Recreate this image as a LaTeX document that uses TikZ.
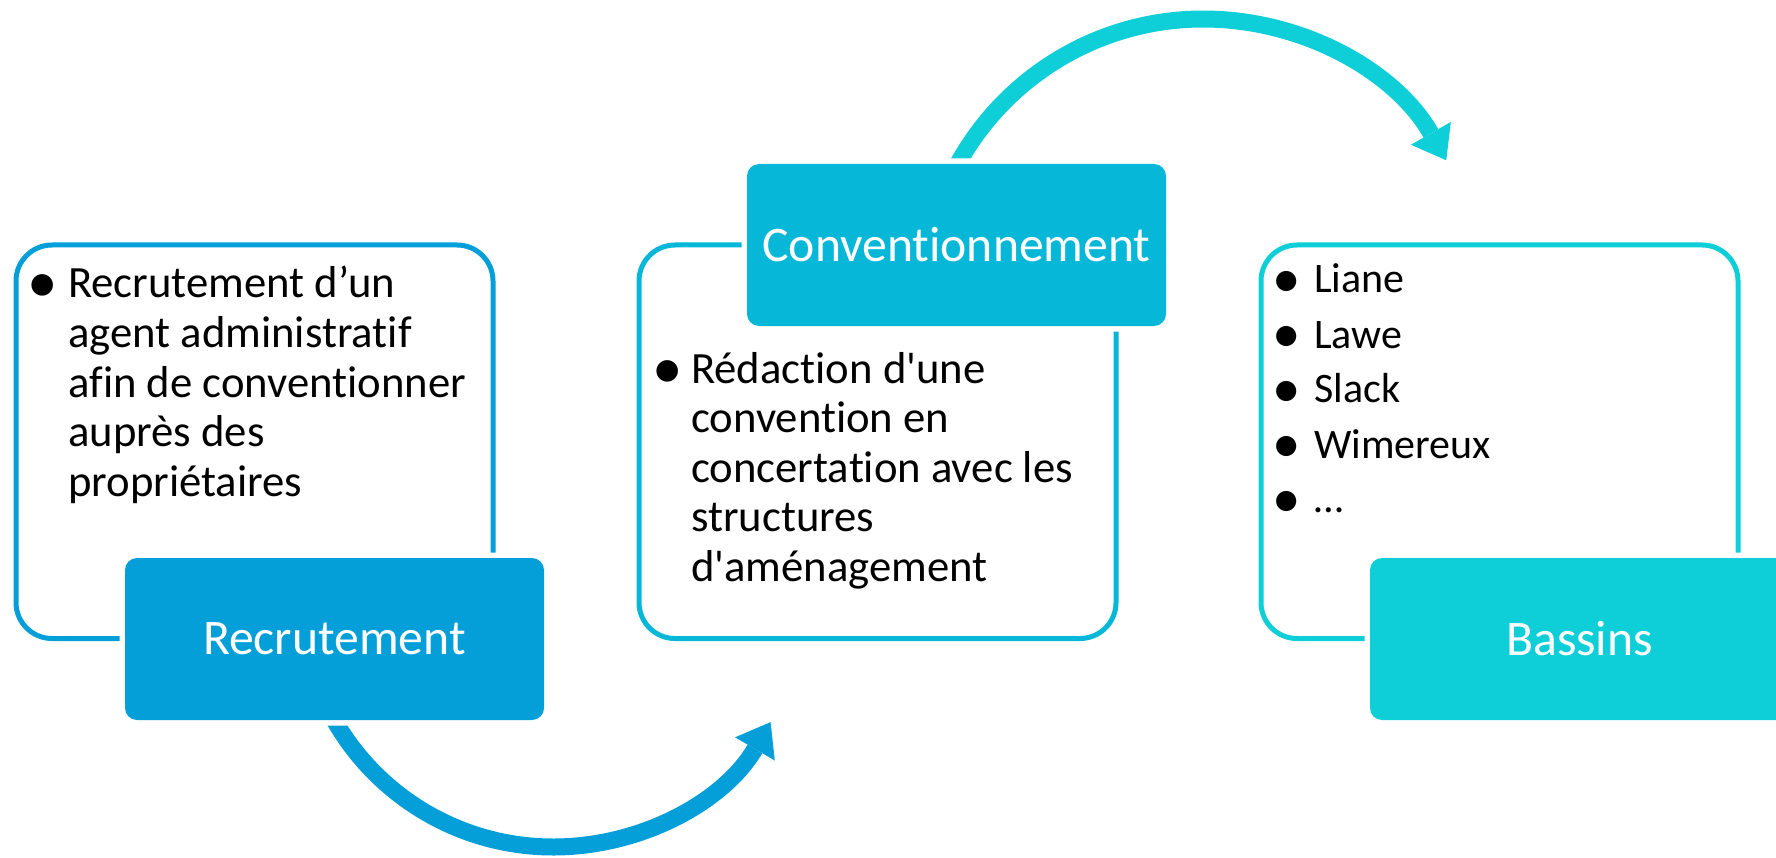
\documentclass[tikz,border=0pt]{standalone}
\usepackage{fontspec}
\newfontfamily\calib{Carlito}[Ligatures=CommonOff]
\usetikzlibrary{arrows.meta}
\definecolor{cA}{HTML}{049FD9}
\definecolor{cB}{HTML}{07B7D8}
\definecolor{cC}{HTML}{0ECFD8}
\begin{document}
\begin{tikzpicture}[x=1pt,y=-1pt,
  frame/.style={draw, line width=5pt, rounded corners=36pt, minimum width=477pt, minimum height=393.5pt, inner sep=0pt},
  labelbox/.style={preaction={draw=white, line width=11pt}, rounded corners=12pt, minimum width=419pt, minimum height=162pt, inner sep=0pt, text=white, font=\calib\fontsize{49.7}{60}\selectfont},
  bodytext/.style={anchor=base west, inner sep=0pt, font=\calib\fontsize{44.7}{49.6}\selectfont},
  bulletmark/.style={anchor=base, inner sep=0pt, font=\calib\fontsize{61}{49.6}\selectfont},
  smalltext/.style={font=\calib\fontsize{42}{55}\selectfont},
  smallbullet/.style={font=\calib\fontsize{57}{55}\selectfont},
  flow/.style={line width=17pt, -{Triangle[length=31pt, width=46pt, line width=0pt]}}]
\useasboundingbox (0,0) rectangle (1776,858);
\clip (0,0) rectangle (1776,858);
\fill[white] (0,0) rectangle (1776,858);
% frames
\node[frame, draw=cA] (f1) at (254.5,441.75) {};
\node[frame, draw=cB] (f2) at (877.5,441.75) {};
\node[frame, draw=cC] (f3) at (1499.5,441.75) {};
% texts
\node[bulletmark] (lb) at (43,303) {•};
\node[bodytext] (lt) at (68,298) {\parbox[t]{420pt}{\raggedright Recrutement d’un\\agent administratif\\afin de conventionner\\auprès des\\propriétaires}};
\node[bulletmark] (mb) at (668,388) {•};
\node[bodytext] (mt) at (691,383) {\parbox[t]{420pt}{\raggedright Rédaction d'une\\convention en\\concertation avec les\\structures\\d'aménagement}};
\node[bulletmark, smallbullet] (rb) at (1287,297.4) {\parbox[t]{30pt}{\centering •\\•\\•\\•\\•}};
\node[bodytext, smalltext] (rt) at (1314,293) {\parbox[t]{400pt}{\raggedright Liane\\Lawe\\Slack\\Wimereux\\…}};
% arrows
\coordinate (a1s) at (324.61,701.50);
\coordinate (a1m) at (541.35,846.73);
\coordinate (a1e) at (770.58,722.14);
\draw[flow, draw=cA] (a1s) .. controls (364.23,786.46) and (447.71,842.40) .. (a1m) .. controls (634.99,851.06) and (723.29,803.07) .. (a1e);
\coordinate (a2s) at (949.23,180.67);
\coordinate (a2m) at (1191.52,19.24);
\coordinate (a2e) at (1446.22,160.27);
\draw[flow, draw=cC] (a2s) .. controls (993.47,85.80) and (1086.93,23.53) .. (a2m) .. controls (1296.11,14.95) and (1394.36,69.34) .. (a2e);
% label boxes
\node[labelbox, fill=cA] (rec) at (334.5,639) {Recrutement};
\node[labelbox, fill=cB] (conv) at (956.5,245) {Conventionnement};
\node[labelbox, fill=cC] (bass) at (1579.5,639) {Bassins};
\end{tikzpicture}
\end{document}
